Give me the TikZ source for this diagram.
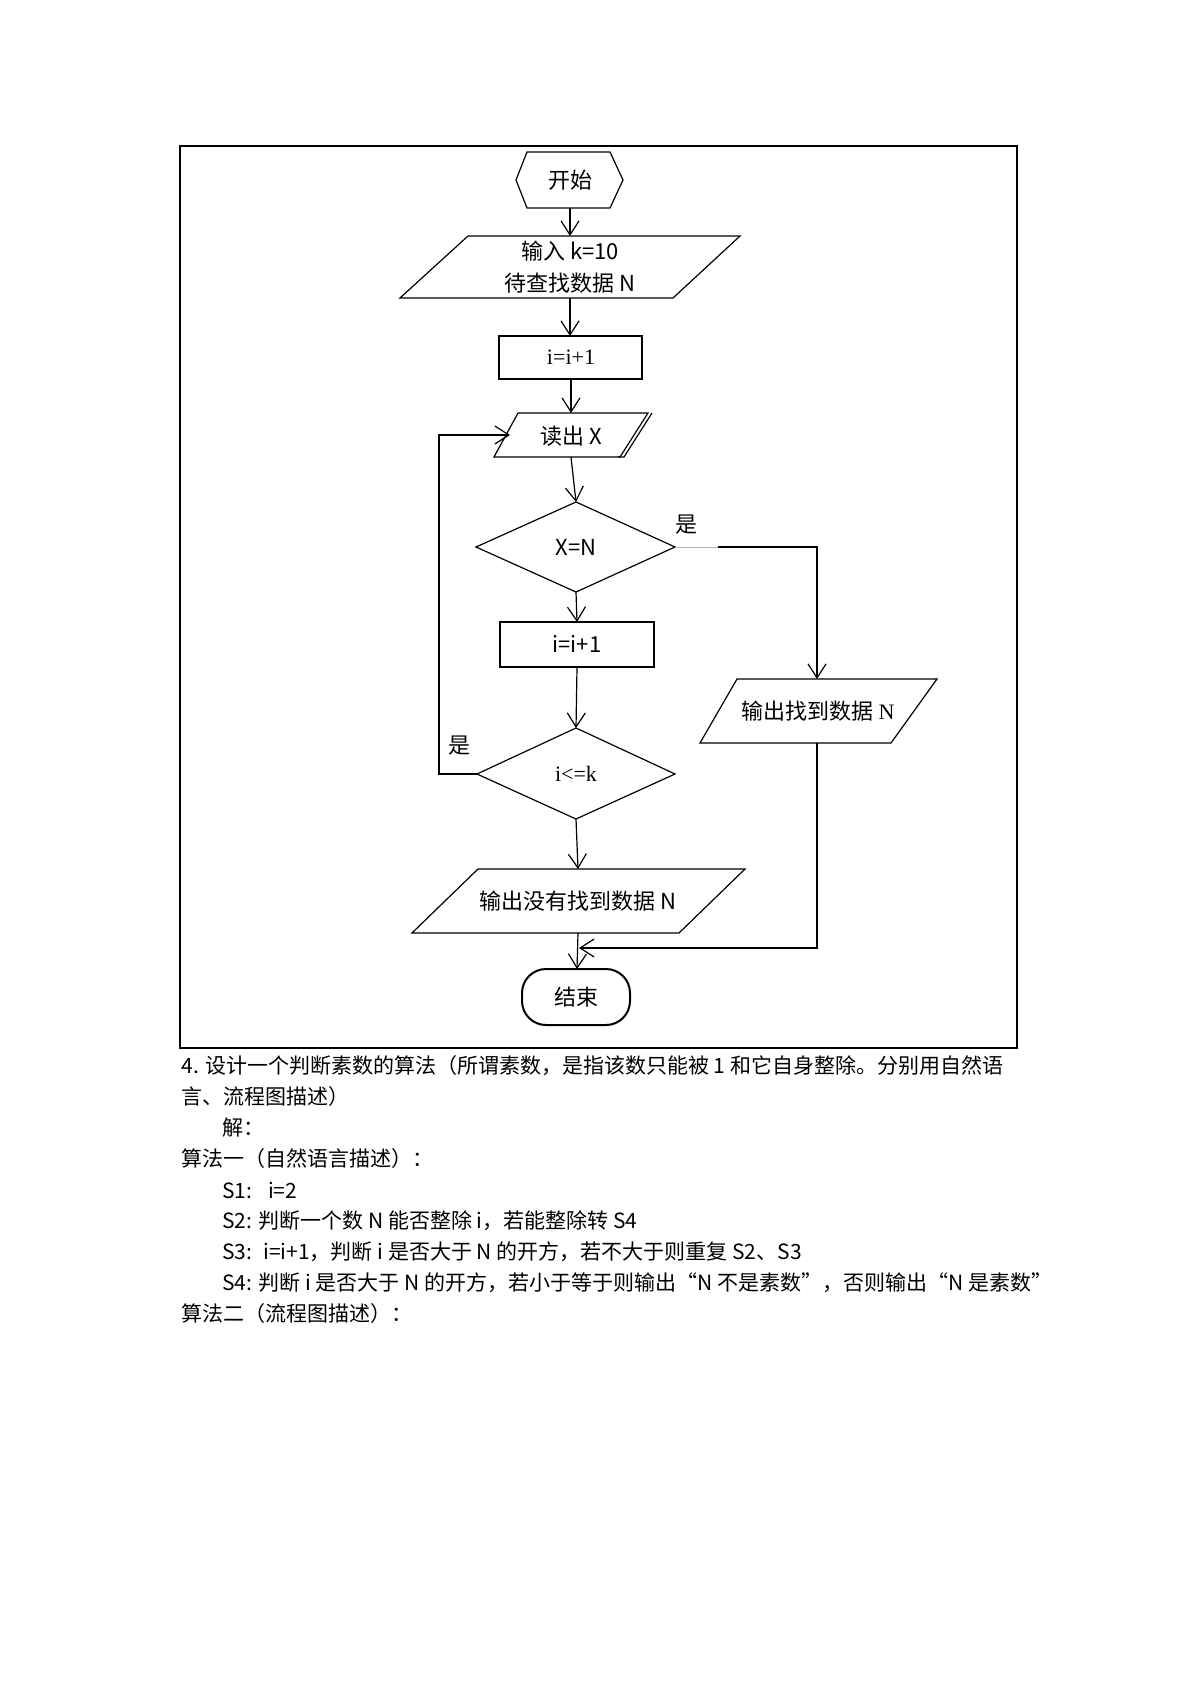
\documentclass[tikz,border=0pt]{standalone}
\usepackage{fontspec}
\setmainfont{Noto Sans CJK SC}
\newfontfamily\serifl{Liberation Serif}
\usetikzlibrary{arrows.meta}
\begin{document}
\begin{tikzpicture}[x=0.5pt,y=-0.5pt,
  shp/.style={draw,line width=0.6pt},
  conn/.style={line width=0.6pt,-{Straight Barb[length=7pt,width=9pt]}},
  line/.style={line width=0.6pt},
  lbl/.style={inner sep=0pt,font=\fontsize{11}{13}\selectfont},
  body/.style={anchor=west,inner sep=0pt,font=\fontsize{10.5}{12}\selectfont}]
\useasboundingbox (0,0) rectangle (1191,1684);
\draw[line width=1pt] (180,146) rectangle (1017,1048);
% shapes
\draw[shp] (516,180)--(527,152)--(610,152)--(623,180)--(610,208)--(527,208)--cycle;
\node[lbl] (start) at (570,180) {开始};
\draw[shp] (468,236)--(740,236)--(673,298)--(400,298)--cycle;
\node[lbl,align=center,font=\fontsize{11}{16}\selectfont] (in) at (570,267) {输入 k=10\\待查找数据 N};
\draw[shp] (499,336) rectangle (642,379);
\node[lbl,font=\fontsize{11}{13}\serifl] (b1) at (571,357) {i=i+1};
\draw[shp] (518,413)--(648,413)--(620,457)--(494,457)--cycle;
\draw[line width=0.6pt] (652,413)--(624,457)--(618,457);
\node[lbl] (rd) at (571,436) {读出 X};
\draw[shp] (476,547)--(576,502)--(675,547)--(576,592)--cycle;
\node[lbl] (d1) at (576,547) {X=N};
\draw[shp] (500,622) rectangle (654,667);
\node[lbl] (b2) at (577,644) {i=i+1};
\draw[shp] (477,774)--(576,728)--(675,774)--(576,819)--cycle;
\node[lbl,font=\fontsize{11}{13}\serifl] (d2) at (576,774) {i<=k};
\draw[shp] (737,679)--(937,679)--(891,743)--(700,743)--cycle;
\node[lbl] (o1) at (818,711) {输出找到数据 {\serifl N}};
\draw[shp] (478,869)--(745,869)--(679,933)--(412,933)--cycle;
\node[lbl] (o2) at (578,901) {输出没有找到数据 N};
\draw[line width=1pt,rounded corners=12pt] (522,969) rectangle (630,1025);
\node[lbl] (end) at (576,997) {结束};
% labels
\node[lbl] (y1) at (686,525) {是};
\node[lbl] (y2) at (459,746) {是};
% connectors
\coordinate (a1) at (570,208); \coordinate (a2) at (570,236);
\draw[conn] (a1)--(a2);
\coordinate (a3) at (570,298); \coordinate (a4) at (570,336);
\draw[conn] (a3)--(a4);
\coordinate (a5) at (571,379); \coordinate (a6) at (571,413);
\draw[conn] (a5)--(a6);
\coordinate (a7) at (571,457); \coordinate (a8) at (576,502);
\draw[conn] (a7)--(a8);
\coordinate (a9) at (576,592); \coordinate (a10) at (577,622);
\draw[conn] (a9)--(a10);
\coordinate (a11) at (577,667); \coordinate (a12) at (576,728);
\draw[conn] (a11)--(a12);
\coordinate (a13) at (576,819); \coordinate (a14) at (578,869);
\draw[conn] (a13)--(a14);
\coordinate (a15) at (578,933); \coordinate (a16) at (577,969);
\draw[conn] (a15)--(a16);
\coordinate (l1) at (477,774); \coordinate (l2) at (439,774); \coordinate (l3) at (439,435); \coordinate (l4) at (510,435);
\draw[conn] (l1)--(l2)--(l3)--(l4);
\coordinate (r1) at (675,547); \coordinate (r2) at (718,547); \coordinate (r3) at (817,547); \coordinate (r4) at (817,679);
\draw[line width=0.4pt,gray!60] (r1)--(r2);
\draw[conn] (r2)--(r3)--(r4);
\coordinate (s1) at (817,743); \coordinate (s2) at (817,948); \coordinate (s3) at (579,948);
\draw[conn] (s1)--(s2)--(s3);
% body text
\node[body] (t1) at (181,1066) {4. 设计一个判断素数的算法（所谓素数，是指该数只能被 1 和它自身整除。分别用自然语};
\node[body] (t2) at (181,1097) {言、流程图描述）};
\node[body] (t3) at (222,1128) {解：};
\node[body] (t4) at (181,1159) {算法一（自然语言描述）：};
\node[body] (t5) at (222,1190) {S1: \ \ i=2};
\node[body] (t6) at (222,1221) {S2: 判断一个数 N 能否整除 i，若能整除转 S4};
\node[body] (t7) at (222,1252) {S3: \ i=i+1，判断 i 是否大于 N 的开方，若不大于则重复 S2、S3};
\node[body] (t8) at (222,1283) {S4: 判断 i 是否大于 N 的开方，若小于等于则输出“N 不是素数”，否则输出“N 是素数”};
\node[body] (t9) at (181,1314) {算法二（流程图描述）：};
\end{tikzpicture}
\end{document}
